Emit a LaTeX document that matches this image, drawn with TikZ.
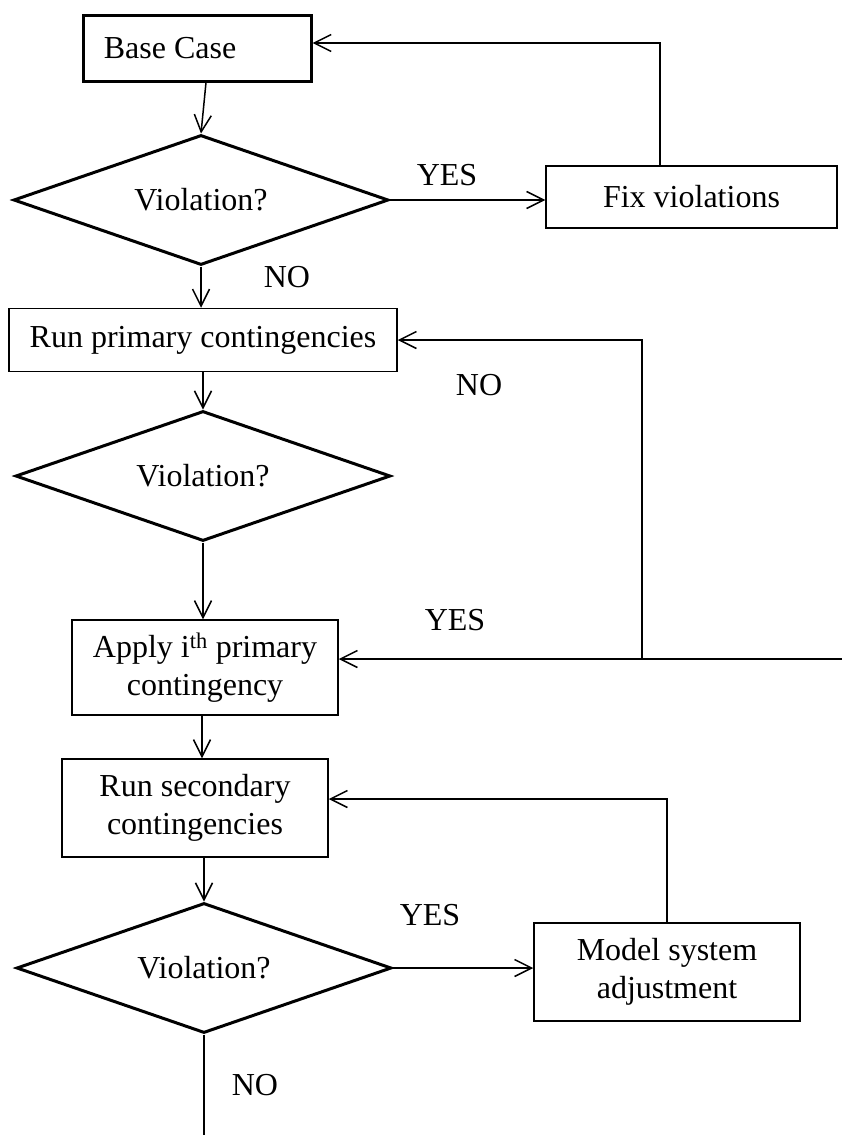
\documentclass[tikz,border=0pt]{standalone}
\usepackage{fontspec}
\setmainfont{Liberation Serif}
\usetikzlibrary{shapes.geometric,arrows.meta}
\begin{document}
\begin{tikzpicture}[x=1pt,y=-1pt,
  every node/.style={font=\fontsize{32}{38}\selectfont},
  box/.style={draw,line width=1.5pt,rectangle,inner sep=0pt,align=center},
  thickbox/.style={draw,line width=3pt,rectangle,inner sep=0pt},
  decision/.style={draw,line width=3pt,diamond,aspect=2.9,inner sep=0pt,minimum width=375pt,minimum height=130pt},
  conn/.style={line width=1.5pt},
  arr/.style={conn,-{Straight Barb[length=17pt,width=17pt,line width=1.5pt]}},
  lbl/.style={inner sep=0pt}]
\useasboundingbox (0,0) rectangle (842,1135);
% nodes
\node[thickbox,minimum width=228pt,minimum height=66pt] (base) at (197,48) {};
\node[lbl] (basetxt) at (170,48) {Base Case};
\node[decision] (d1) at (201,200) {Violation?};
\node[box,minimum width=291pt,minimum height=62pt] (fix) at (691.5,197) {Fix violations};
\node[box,minimum width=388pt,minimum height=63pt] (prim) at (203,340) {Run primary contingencies};
\node[decision] (d2) at (203,476) {Violation?};
\node[box,minimum width=266pt,minimum height=95pt] (apply) at (205,667.5) {Apply i\textsuperscript{th} primary\\contingency};
\node[box,minimum width=266pt,minimum height=98pt] (sec) at (195,808) {Run secondary\\contingencies};
\node[decision] (d3) at (204,968) {Violation?};
\node[box,minimum width=266pt,minimum height=98pt] (model) at (667,972) {Model system\\adjustment};
% labels
\node[lbl] (yes1) at (447,175) {YES};
\node[lbl] (no1) at (287,277) {NO};
\node[lbl] (no2) at (479,385) {NO};
\node[lbl] (yes2) at (455,620) {YES};
\node[lbl] (yes3) at (430,915) {YES};
\node[lbl] (no3) at (255,1085) {NO};
% coordinates
\coordinate (xfix) at (660,43);
\coordinate (jn) at (642,659);
\coordinate (edge) at (842,659);
\coordinate (endpt) at (204,1135);
% connectors
\draw[arr] (base.south -| 206,0) -- (d1.north);
\draw[arr] (d1.east) -- (d1.east -| fix.west);
\draw[arr] (fix.north -| xfix) -- (xfix) -- (xfix -| base.east);
\draw[arr] (d1.south) -- (d1.south |- prim.north);
\draw[arr] (prim.south -| d2.north) -- (d2.north);
\draw[arr] (d2.south) -- (d2.south |- apply.north);
\draw[arr] (edge) -- (edge -| apply.east);
\draw[arr] (jn) |- (prim.east);
\draw[arr] (apply.south -| 202,0) -- (sec.north -| 202,0);
\draw[arr] (sec.south -| d3.north) -- (d3.north);
\draw[arr] (d3.east) -- (d3.east -| model.west);
\draw[arr] (model.north) |- ([yshift=9pt]sec.east);
\draw[conn] (d3.south) -- (endpt);
\end{tikzpicture}
\end{document}
